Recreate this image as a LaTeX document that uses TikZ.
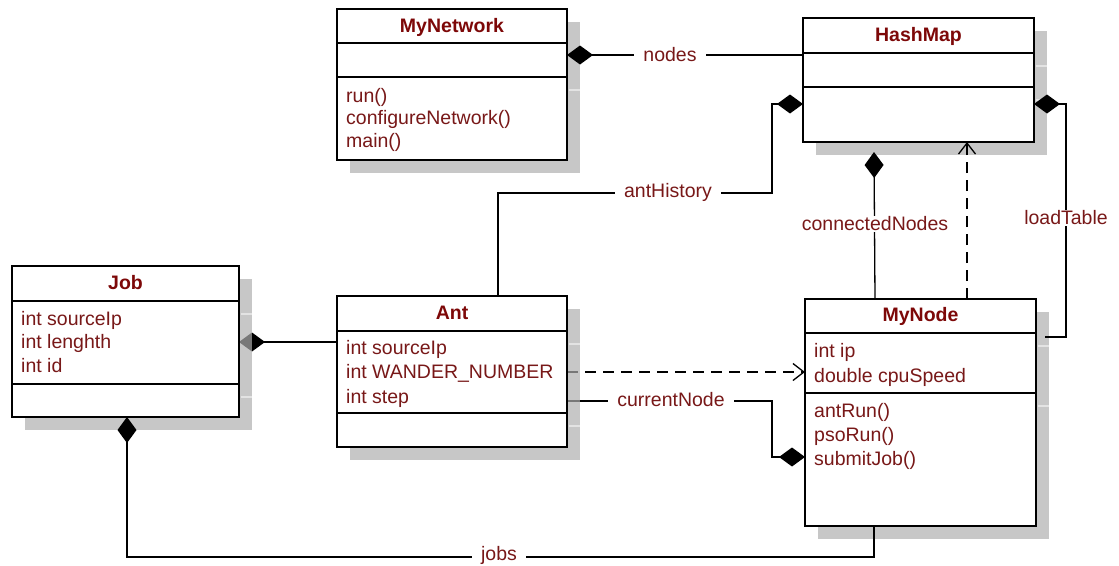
\documentclass[tikz,border=0pt]{standalone}
\usepackage{fontspec}
\setmainfont{Liberation Sans}
\usetikzlibrary{arrows.meta,calc}
\definecolor{ttlc}{RGB}{125,8,8}
\definecolor{txtc}{RGB}{120,24,24}
\definecolor{shdc}{RGB}{175,175,175}
\pgfdeclarelayer{bg}
\pgfdeclarelayer{conn}
\pgfdeclarelayer{shadow}
\pgfsetlayers{bg,conn,shadow,main}
\tikzset{
  clsbox/.style={draw=black, fill=white, line width=2.6pt, anchor=north west, inner sep=0pt, outer sep=0pt},
  clsdiv/.style={draw=black, line width=2.6pt},
  shd/.style={fill=shdc, fill opacity=0.69},
  shdln/.style={draw=white, draw opacity=0.5, line width=1.6pt},
  ttl/.style={anchor=base, inner sep=0pt, text=ttlc, font=\fontsize{19.5}{23}\selectfont\bfseries},
  mem/.style={anchor=base west, inner sep=0pt, text=txtc, font=\fontsize{19.5}{23}\selectfont},
  conn/.style={draw=black, line width=1.3pt},
  dstart/.style={{Diamond[length=26pt,width=19pt]}-},
  dend/.style={-{Diamond[length=26pt,width=19pt]}},
  dep/.style={dash pattern=on 11pt off 7pt, -{Straight Barb[length=11pt,width=17pt]}},
  lbl/.style={fill=white, inner xsep=9pt, inner ysep=1pt, text=txtc, font=\fontsize{19.5}{23}\selectfont},
}
% name, x1, y1, x2, y2, divider1, divider2
\newcommand\umlbox[7]{%
  \begin{pgfonlayer}{shadow}
    \fill[shd] (#2+13,#3+13) rectangle (#4+13,#5+13);
    \draw[shdln] (#4+1.5,#6+13) -- (#4+13,#6+13);
    \draw[shdln] (#4+1.5,#7+13) -- (#4+13,#7+13);
  \end{pgfonlayer}
  \node[clsbox, minimum width=#4pt-#2pt, minimum height=#5pt-#3pt] (#1) at (#2,#3) {};
  \draw[clsdiv] (#1.west |- 0,#6) -- (#1.east |- 0,#6);
  \draw[clsdiv] (#1.west |- 0,#7) -- (#1.east |- 0,#7);
}
\begin{document}
\begin{tikzpicture}[x=1pt,y=-1pt]
\begin{pgfonlayer}{bg}
  \fill[white] (0,0) rectangle (1119,565);
\end{pgfonlayer}
\useasboundingbox (0,0) rectangle (1119,565);

% ---- classes
\umlbox{mynet}{337}{9}{567}{160}{43}{77}
\node[ttl] (mynet-t) at (452,32) {MyNetwork};
\node[mem] (mynet-m1) at (346,102) {run()};
\node[mem] (mynet-m2) at (346,124.5) {configureNetwork()};
\node[mem] (mynet-m3) at (346,147) {main()};

\umlbox{hashmap}{803}{18}{1034}{142}{53}{87}
\node[ttl] (hashmap-t) at (918.5,41.5) {HashMap};

\umlbox{job}{12}{266}{239}{417}{301}{384}
\node[ttl] (job-t) at (125.5,289.5) {Job};
\node[mem] (job-a1) at (21,325) {int sourceIp};
\node[mem] (job-a2) at (21,348.5) {int lenghth};
\node[mem] (job-a3) at (21,372) {int id};

\umlbox{ant}{337}{296}{567}{447}{331}{413}
\node[ttl] (ant-t) at (452,319) {Ant};
\node[mem] (ant-a1) at (346,354) {int sourceIp};
\node[mem] (ant-a2) at (346,378.5) {int WANDER\_NUMBER};
\node[mem] (ant-a3) at (346,403) {int step};

\umlbox{mynode}{805}{299}{1036}{526}{333}{393}
\node[ttl] (mynode-t) at (920.5,321.5) {MyNode};
\node[mem] (mynode-a1) at (814,357) {int ip};
\node[mem] (mynode-a2) at (814,382) {double cpuSpeed};
\node[mem] (mynode-m1) at (814,417) {antRun()};
\node[mem] (mynode-m2) at (814,441) {psoRun()};
\node[mem] (mynode-m3) at (814,465) {submitJob()};

% ---- connectors that pass under the shadows
\begin{pgfonlayer}{conn}
  \draw[conn,dend] ($(ant.north west)+(161,0)$) -- (498,193) -- (772,193) -- (772,104) -- (hashmap.west |- 0,104);
  \node[lbl] (l-anth) at (668,192) {antHistory};

  \draw[conn,dstart] (job.east |- 0,342) -- (ant.west |- 0,342);

  \draw[conn,dep] (ant.east |- 0,372) -- (mynode.west |- 0,372);

  \draw[conn,dend] (ant.east |- 0,401) -- (772,401) -- (772,457) -- (mynode.west |- 0,457);
  \node[lbl] (l-cur) at (671,400) {currentNode};
\end{pgfonlayer}

% ---- connectors drawn over the shadows
\draw[conn,dstart] (mynet.east |- 0,55) -- (hashmap.west |- 0,55);
\node[lbl] (l-nodes) at (670,55) {nodes};

\draw[conn,dend] ($(mynode.north west)+(70,0)$) -- ($(hashmap.south west)+(71,10)$);
\node[lbl] (l-conn) at (875,224) {connectedNodes};

\draw[conn,dep] ($(mynode.north west)+(162,0)$) -- ($(hashmap.south west)+(164,0)$);

\draw[conn,dstart] ($(job.south west)+(115,0)$) -- (127,557) -- (874,557) -- ($(mynode.south west)+(69,0)$);
\node[lbl] (l-jobs) at (499,555) {jobs};

\draw[conn,dstart] (hashmap.east |- 0,104) -- (1066,104) -- (1066,337) -- ($(mynode.east |- 0,337)+(9,0)$);
\node[lbl] (l-load) at (1066,218) {loadTable};
\end{tikzpicture}
\end{document}
